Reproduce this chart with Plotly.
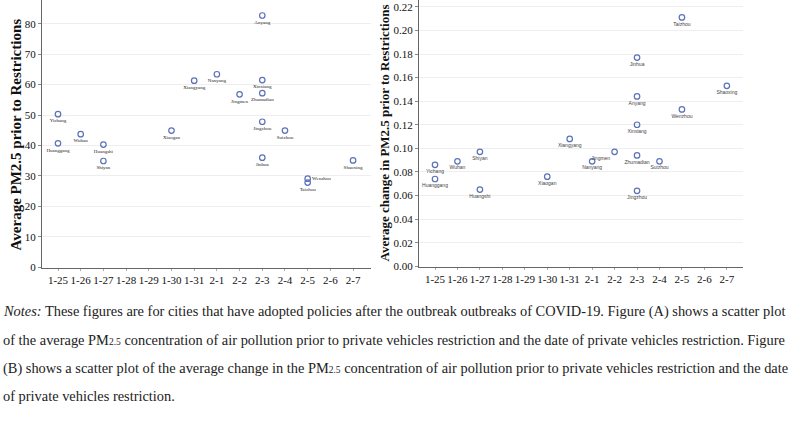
import plotly.graph_objects as go

dates = ["1-25", "1-26", "1-27", "1-28", "1-29", "1-30", "1-31",
         "2-1", "2-2", "2-3", "2-4", "2-5", "2-6", "2-7"]

# Panel A: average PM2.5 prior to restrictions
city_a = ["Yichang", "Huanggang", "Wuhan", "Huangshi", "Shiyan", "Xiaogan", "Xiangyang",
          "Nanyang", "Jingmen", "Anyang", "Xinxiang", "Zhumadian", "Jingzhou", "Jinhua",
          "Suizhou", "Wenzhou", "Taizhou", "Shaoxing"]
date_a = ["1-25", "1-25", "1-26", "1-27", "1-27", "1-30", "1-31",
          "2-1", "2-2", "2-3", "2-3", "2-3", "2-3", "2-3",
          "2-4", "2-5", "2-5", "2-7"]
pm_a = [50.3, 40.7, 43.7, 40.3, 34.9, 44.9, 61.3,
        63.4, 56.8, 82.7, 61.5, 57.2, 47.8, 36.0,
        44.9, 29.1, 27.8, 35.1]
pos_a = ["bottom center"] * 15 + ["middle right", "bottom center", "bottom center"]

# Panel B: average change in PM2.5 prior to restrictions
city_b = ["Yichang", "Huanggang", "Wuhan", "Shiyan", "Huangshi", "Xiaogan", "Xiangyang",
          "Nanyang", "Jingmen", "Jinhua", "Anyang", "Xinxiang", "Zhumadian", "Jingzhou",
          "Suizhou", "Taizhou", "Wenzhou", "Shaoxing"]
date_b = ["1-25", "1-25", "1-26", "1-27", "1-27", "1-30", "1-31",
          "2-1", "2-2", "2-3", "2-3", "2-3", "2-3", "2-3",
          "2-4", "2-5", "2-5", "2-7"]
chg_b = [0.086, 0.074, 0.089, 0.097, 0.065, 0.076, 0.108,
         0.089, 0.097, 0.177, 0.144, 0.120, 0.094, 0.064,
         0.089, 0.211, 0.133, 0.153]
pos_b = ["bottom center"] * 8 + ["bottom left"] + ["bottom center"] * 9

ticks_a = [0, 10, 20, 30, 40, 50, 60, 70, 80]
ticks_b = [0.00, 0.02, 0.04, 0.06, 0.08, 0.10, 0.12, 0.14, 0.16, 0.18, 0.20, 0.22]

MARK = "#5b72b8"
SERIF = "Liberation Serif"
SANS = "Liberation Sans"

fig = go.Figure()
fig.add_trace(go.Scatter(
    x=date_a, y=pm_a, text=city_a, mode="markers+text", textposition=pos_a,
    textfont=dict(family=SERIF, size=5, color="#222"),
    marker=dict(symbol="circle-open", size=5.5, color=MARK, line=dict(width=1.2, color=MARK)),
    xaxis="x", yaxis="y", showlegend=False, cliponaxis=False))
fig.add_trace(go.Scatter(
    x=date_b, y=chg_b, text=city_b, mode="markers+text", textposition=pos_b,
    textfont=dict(family=SANS, size=5, color="#444"),
    marker=dict(symbol="circle-open", size=5.5, color=MARK, line=dict(width=1.2, color=MARK)),
    xaxis="x2", yaxis="y2", showlegend=False, cliponaxis=False))

yaxis_common = dict(showline=True, linecolor="#666", linewidth=1, ticks="outside",
                    ticklen=3, tickcolor="#888", ticklabeloverflow="allow",
                    tickfont=dict(family=SERIF, size=11, color="#111"))
xaxis_common = dict(showline=True, linecolor="#666", linewidth=1, ticks="outside",
                    ticklen=2, tickcolor="#aaa", tickangle=0, showgrid=False,
                    type="category", categoryorder="array", categoryarray=dates,
                    tickfont=dict(family=SERIF, size=11, color="#111"))

fig.update_layout(
    width=789, height=426,
    margin=dict(l=0, r=0, t=0, b=0),
    paper_bgcolor="white", plot_bgcolor="white",
    xaxis=dict(domain=[42/789, 371/789], anchor="y", range=[-0.705, 13.79], **xaxis_common),
    yaxis=dict(domain=[155/426, 1.0], anchor="x", range=[-0.2, 87.8],
               tickvals=ticks_a, showgrid=True, gridcolor="#eeeeee", zeroline=False,
               **yaxis_common),
    xaxis2=dict(domain=[419/789, 743/789], anchor="y2", range=[-0.713, 13.72], **xaxis_common),
    yaxis2=dict(domain=[156/426, 1.0], anchor="x2", range=[-0.0005, 0.2258],
                tickvals=ticks_b, tickformat=".2f", showgrid=True, gridcolor="#eeeeee",
                zeroline=False, **yaxis_common),
)

annos = [
    dict(text="<b>Average PM2.5 prior to Restrictions</b>", x=16/789, y=1 - 136/426,
         textangle=-90, font=dict(family=SERIF, size=15, color="#111")),
    dict(text="<b>Average change in PM2.5 prior to Restrictions</b>", x=384/789, y=1 - 135/426,
         textangle=-90, font=dict(family=SERIF, size=13, color="#111")),
]
sub = "<span style='font-size:9.5px'>2.5</span>"
notes = [
    "<i>Notes:</i> These figures are for cities that have adopted policies after the outbreak outbreaks of COVID-19. Figure (A) shows a scatter plot",
    "of the average PM" + sub + " concentration of air pollution prior to private vehicles restriction and the date of private vehicles restriction. Figure",
    "(B) shows a scatter plot of the average change in the PM" + sub + " concentration of air pollution prior to private vehicles restriction and the date",
    "of private vehicles restriction.",
]
line_y = [315, 344, 373, 401]
for t, yy in zip(notes, line_y):
    annos.append(dict(text=t, x=1/789, y=1 - yy/426, xanchor="left", yanchor="middle",
                      font=dict(family=SERIF, size=14.4, color="#222")))
for a in annos:
    a.setdefault("xanchor", "center")
    a.setdefault("yanchor", "middle")
    a.update(xref="paper", yref="paper", showarrow=False)
fig.update_layout(annotations=annos)

fig.write_html("out.html", config={"displayModeBar": False},
               post_script="document.body.style.margin='0';document.body.style.overflow='hidden';")
